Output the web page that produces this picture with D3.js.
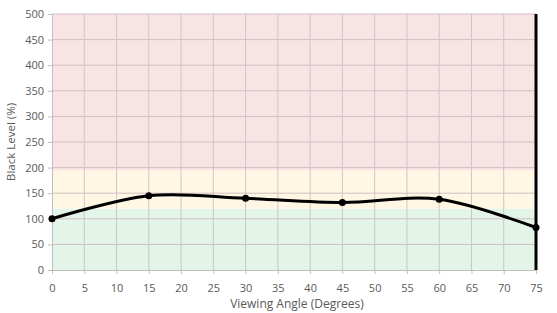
<!DOCTYPE html>
<html>
<head>
<meta charset="utf-8">
<script src="https://cdn.jsdelivr.net/npm/d3@7"></script>
<style>
  body { margin: 0; background: #fff; }
  text { font-family: "Open Sans", "DejaVu Sans", sans-serif; }
</style>
</head>
<body>
<div id="chart"></div>
<script>
const angles = [0, 15, 30, 45, 60, 75];
const blackLevel = [100, 145, 140, 132, 138, 83];
const xTicks = d3.range(0, 76, 5);
const yTicks = [0, 50, 100, 150, 200, 250, 300, 350, 400, 450, 500];
const bands = [
  { from: 0, to: 120, color: "#e3f4e8" },
  { from: 120, to: 195, color: "#fff7e3" },
  { from: 195, to: 500, color: "#f8e4e4" }
];

const margins = { top: 14, right: 21, bottom: 43, left: 52 },
    width = 557 - margins.left - margins.right,
    height = 313 - margins.top - margins.bottom;

const svg = d3.select("#chart").append("svg")
    .attr("width", 557)
    .attr("height", 313)
    .append("g")
    .attr("transform", `translate(${margins.left},${margins.top})`);

const x = d3.scaleLinear().domain([0, 75]).range([0, width]);
const y = d3.scaleLinear().domain([0, 500]).range([height, 0]);

svg.selectAll(".band")
    .data(bands)
    .enter().append("rect")
    .attr("x", 0)
    .attr("width", width)
    .attr("y", d => y(d.to))
    .attr("height", d => y(d.from) - y(d.to))
    .attr("fill", d => d.color);

// gridlines
svg.selectAll(".hgrid")
    .data(yTicks.slice(1))
    .enter().append("line")
    .attr("x1", 0).attr("x2", width)
    .attr("y1", d => y(d)).attr("y2", d => y(d))
    .attr("stroke", "#cfbfc2")
    .attr("stroke-width", 1);

svg.selectAll(".vgrid")
    .data(xTicks.slice(1, -1))
    .enter().append("line")
    .attr("x1", d => x(d)).attr("x2", d => x(d))
    .attr("y1", 0).attr("y2", height)
    .attr("stroke", "#cfc5c6")
    .attr("stroke-width", 1);

const xAxis = svg.append("g")
    .attr("transform", `translate(0,${height})`)
    .call(d3.axisBottom(x).tickValues(xTicks).tickSize(4).tickPadding(10).tickSizeOuter(0));

const yAxis = svg.append("g")
    .call(d3.axisLeft(y).tickValues(yTicks).tickSize(4).tickPadding(4).tickSizeOuter(0));

[xAxis, yAxis].forEach(a => {
  a.select(".domain").attr("stroke", "#bfbfbf");
  a.selectAll(".tick line").attr("stroke", "#bfbfbf");
  a.selectAll(".tick text").attr("fill", "#595959").attr("font-size", "11px");
});
xAxis.selectAll(".tick text").attr("dy", "0.71em");

// right border
svg.append("line")
    .attr("x1", width).attr("x2", width)
    .attr("y1", 0).attr("y2", height)
    .attr("stroke", "#000")
    .attr("stroke-width", 3);

const points = angles.map((a, i) => ({ a, v: blackLevel[i] }));

svg.append("path")
    .datum(points)
    .attr("fill", "none")
    .attr("stroke", "#000")
    .attr("stroke-width", 3)
    .attr("stroke-linejoin", "round")
    .attr("d", d3.line().x(d => x(d.a)).y(d => y(d.v)).curve(d3.curveCardinal.tension(0)));

svg.selectAll(".dot")
    .data(points)
    .enter().append("circle")
    .attr("cx", d => x(d.a))
    .attr("cy", d => y(d.v))
    .attr("r", 3.5)
    .attr("fill", "#000");

svg.append("text")
    .attr("x", width / 2 + 3)
    .attr("y", height + 38)
    .attr("text-anchor", "middle")
    .attr("font-size", "12px")
    .attr("fill", "#595959")
    .text("Viewing Angle (Degrees)");

svg.append("text")
    .attr("transform", "rotate(-90)")
    .attr("x", -128)
    .attr("y", -37)
    .attr("text-anchor", "middle")
    .attr("font-size", "11.5px")
    .attr("fill", "#595959")
    .text("Black Level (%)");
</script>
</body>
</html>
